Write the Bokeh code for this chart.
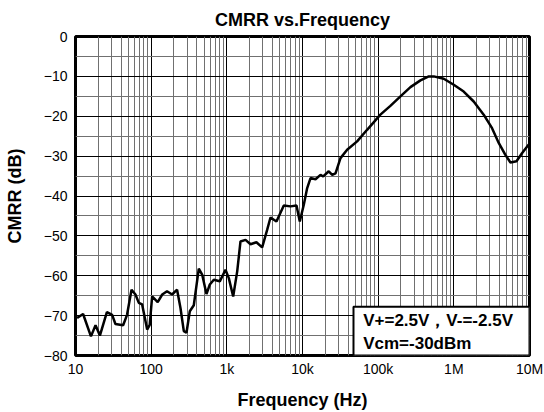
from bokeh.plotting import figure
from bokeh.models import FixedTicker, BoxAnnotation, Label
from bokeh.embed import file_html
from bokeh.resources import INLINE

# Data
freq_hz = [10.5, 12.6, 16, 18.4, 21, 26, 30.5, 33.7, 42.6, 48, 55, 62, 68.7, 76, 88.5, 95.7,
           103, 122, 140, 162, 189, 220, 244, 270, 293, 324, 366, 426, 472, 538, 596, 673,
           807, 960, 1062, 1213, 1371, 1515, 1766, 2056, 2460, 2930, 3410, 3775, 4530, 5660,
           6940, 8330, 9210, 10400, 11530, 12770, 14860, 17300, 18800, 22230, 24700, 27300,
           31770, 38900, 52700, 71400, 107000, 145000, 197000, 267000, 362000, 467000, 543000,
           736000, 997000, 1.35e6, 1.83e6, 2.48e6, 3.2e6, 3.92e6, 4.8e6, 5.6e6, 6.73e6, 8e6, 9.77e6]
cmrr_db = [-70.6, -69.6, -75.2, -72.4, -75.0, -69.1, -69.8, -72.1, -72.4, -69.8, -63.5, -64.7,
           -66.8, -67.2, -73.5, -72.3, -65.2, -66.6, -64.7, -63.9, -64.7, -63.5, -68.1, -73.9,
           -74.3, -68.9, -67.4, -58.2, -59.7, -64.6, -62.2, -61.0, -61.4, -58.5, -60.6, -65.2,
           -58.9, -51.4, -51.0, -52.1, -51.6, -52.9, -48.5, -45.4, -46.4, -42.4, -42.6, -42.4,
           -46.4, -42.2, -38.0, -35.5, -35.8, -34.7, -35.1, -33.8, -34.7, -34.3, -30.5, -28.4,
           -26.3, -23.4, -19.6, -17.4, -15.0, -12.7, -11.0, -10.0, -10.0, -10.6, -12.1, -13.8,
           -16.3, -19.6, -23.0, -26.7, -29.7, -31.6, -31.3, -29.2, -27.1]

x_ticks = [10, 100, 1000, 10000, 100000, 1000000, 10000000]
x_tick_labels = ["10", "100", "1k", "10k", "100k", "1M", "10M"]
x_minor = [m * d for d in [10, 100, 1000, 10000, 100000, 1000000] for m in range(2, 10)]
y_ticks = [-80, -70, -60, -50, -40, -30, -20, -10, 0]
y_minor = [-75, -65, -55, -45, -35, -25, -15, -5]

title_text = "CMRR vs.Frequency"
x_label = "Frequency (Hz)"
y_label = "CMRR (dB)"
note_lines = ["V+=2.5V，V-=-2.5V", "Vcm=-30dBm"]

FONT = "Liberation Sans"

p = figure(width=544, height=412, x_axis_type="log", x_range=(10, 1e7), y_range=(-80, 0),
           output_backend="svg", toolbar_location=None,
           min_border_left=75, min_border_right=15, min_border_top=35, min_border_bottom=57,
           border_fill_color="white", background_fill_color="white")

p.title.text = title_text
p.title.align = "center"
p.title.text_font = FONT
p.title.text_font_size = "18px"
p.title.text_font_style = "bold"
p.title.text_color = "black"
p.title.standoff = 14

p.xaxis.ticker = FixedTicker(ticks=x_ticks, minor_ticks=x_minor)
p.xaxis.major_label_overrides = {t: l for t, l in zip(x_ticks, x_tick_labels)}
p.yaxis.ticker = FixedTicker(ticks=y_ticks, minor_ticks=y_minor)

for ax in (p.xaxis, p.yaxis):
    ax.axis_line_color = None
    ax.major_tick_line_color = None
    ax.minor_tick_line_color = None
    ax.major_tick_out = 0
    ax.major_tick_in = 0
    ax.minor_tick_out = 0
    ax.minor_tick_in = 0
    ax.major_label_text_font = FONT
    ax.major_label_text_font_size = "14px"
    ax.major_label_text_color = "black"
    ax.axis_label_text_font = FONT
    ax.axis_label_text_font_size = "18px"
    ax.axis_label_text_font_style = "bold"
    ax.axis_label_text_color = "black"

p.xaxis.axis_label = x_label
p.yaxis.axis_label = y_label
p.xaxis.major_label_standoff = 5
p.yaxis.major_label_standoff = 8
p.xaxis.axis_label_standoff = 10
p.yaxis.axis_label_standoff = 16

p.grid.grid_line_color = "black"
p.grid.grid_line_width = 1
p.grid.grid_line_alpha = 1
p.grid.minor_grid_line_color = "#707070"
p.grid.minor_grid_line_width = 1

p.outline_line_color = "black"
p.outline_line_width = 3

p.line(freq_hz, cmrr_db, line_color="black", line_width=2.5)

box = BoxAnnotation(left=47200, right=1e7, bottom=-80, top=-67.75,
                    fill_color="white", fill_alpha=1, line_color="black", line_width=2,
                    line_alpha=1, level="annotation")
p.add_layout(box)
p.add_layout(Label(x=63400, y=-71.25, text=note_lines[0], text_font=FONT, text_font_size="17px",
                   text_font_style="bold", text_color="black", text_baseline="middle",
                   level="overlay"))
p.add_layout(Label(x=63400, y=-77.0, text=note_lines[1], text_font=FONT, text_font_size="17px",
                   text_font_style="bold", text_color="black", text_baseline="middle",
                   level="overlay"))

open("out.html", "w").write(file_html(p, INLINE))
